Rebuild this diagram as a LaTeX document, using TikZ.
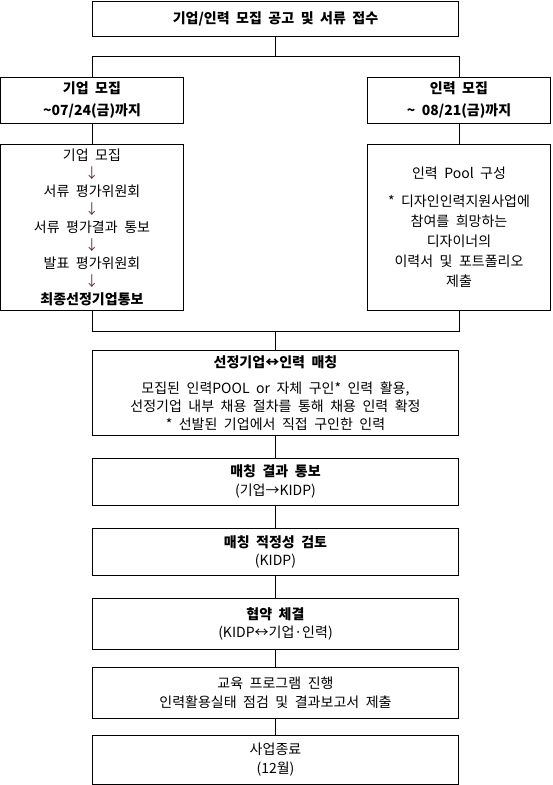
\documentclass[tikz,border=0pt]{standalone}
\usepackage{fontspec}
\setmainfont{Noto Sans CJK KR}
\definecolor{arrowc}{HTML}{6B2F45}
\newcommand{\dn}{{\color{arrowc}↓}}
\newcommand{\fs}[1]{\fontsize{14}{#1}\selectfont\spaceskip=6.5pt\relax}
\tikzset{
  box/.style={draw=black, line width=1pt, fill=white, align=center, inner sep=0pt,
    font=\fs{18.3}},
  conn/.style={draw=black, line width=1pt},
}
\begin{document}
\begin{tikzpicture}[x=1pt,y=-1pt]
\useasboundingbox (0,0) rectangle (552,785);
\fill[white] (0,0) rectangle (552,785);

\node[box, minimum width=366, minimum height=35] (top) at (275.5,18.5)
  {\textbf{기업/인력 모집 공고 및 서류 접수}};

\node[box, minimum width=183, minimum height=46, font=\fs{22}] (left1) at (92,100.3)
  {\textbf{기업 모집}\\\textbf{\textasciitilde07/24(금)까지}};
\node[box, minimum width=183, minimum height=46, font=\fs{22}] (right1) at (459,100.3)
  {\textbf{인력 모집}\\\textbf{\textasciitilde\ 08/21(금)까지}};

\node[box, minimum width=183, minimum height=166, font=\fs{17.9}] (left2) at (92,227.3)
  {기업 모집\\\dn\\서류 평가위원회\\\dn\\서류 평가결과 통보\\\dn\\발표 평가위원회\\\dn\\\textbf{최종선정기업통보}};
\node[box, minimum width=183, minimum height=166, font=\fs{20}] (right2) at (459,227.3)
  {인력 Pool 구성\\[8.3pt]* 디자인인력지원사업에\\참여를 희망하는\\디자이너의\\이력서 및 포트폴리오\\제출};

\node[box, minimum width=366, minimum height=84.3, font=\fs{18}] (match) at (275.5,392.9)
  {\textbf{선정기업↔인력 매칭}\\[7.7pt]모집된 인력POOL or 자체 구인* 인력 활용,\\선정기업 내부 채용 절차를 통해 채용 인력 확정\\* 선발된 기업에서 직접 구인한 인력};

\node[box, minimum width=366, minimum height=47] (result) at (275.5,481.5)
  {\textbf{매칭 결과 통보}\\(기업→KIDP)};
\node[box, minimum width=366, minimum height=47] (review) at (275.5,551.8)
  {\textbf{매칭 적정성 검토}\\(KIDP)};
\node[box, minimum width=366, minimum height=51] (contract) at (275.5,623.8)
  {\textbf{협약 체결}\\(KIDP↔기업·인력)};
\node[box, minimum width=366, minimum height=50.3, font=\fs{19.3}] (edu) at (275.5,692.9)
  {교육 프로그램 진행\\인력활용실태 점검 및 결과보고서 제출};
\node[box, minimum width=366, minimum height=49, font=\fs{19}] (end) at (275.5,759.8)
  {사업종료\\(12월)};

\coordinate (j1) at (275.5,56.7);
\coordinate (j2) at (275.5,331);

\draw[conn] (top.south) -- (j1);
\draw[conn] (left1.north) |- (j1);
\draw[conn] (right1.north) |- (j1);
\draw[conn] (left1.south) -- (left2.north);
\draw[conn] (right1.south) -- (right2.north);
\draw[conn] (left2.south) |- (j2);
\draw[conn] (right2.south) |- (j2);
\draw[conn] (j2) -- (match.north);
\draw[conn] (match.south) -- (result.north);
\draw[conn] (result.south) -- (review.north);
\draw[conn] (review.south) -- (contract.north);
\draw[conn] (contract.south) -- (edu.north);
\draw[conn] (edu.south) -- (end.north);
\end{tikzpicture}
\end{document}
